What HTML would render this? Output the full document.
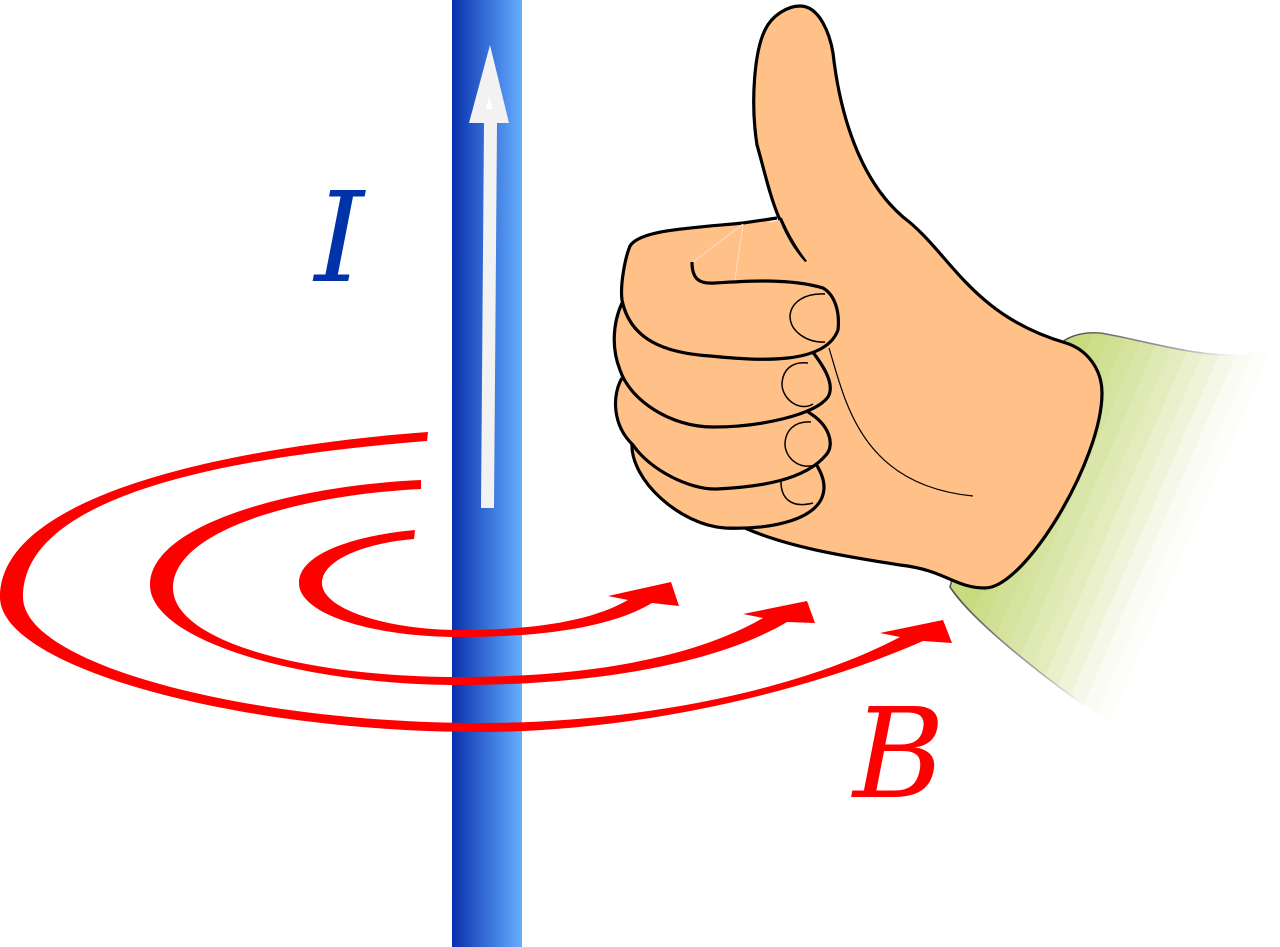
<!DOCTYPE html>
<html>
<head>
<meta charset="utf-8">
<title>Right-hand rule</title>
<style>
html,body{margin:0;padding:0;background:#fff;}
svg{display:block;}
text{font-family:"DejaVu Serif",serif;font-style:italic;font-size:125px;}
</style>
</head>
<body>
<svg xmlns="http://www.w3.org/2000/svg" width="1280" height="947" viewBox="0 0 1280 947">
<defs>
<linearGradient id="wire" x1="452" y1="0" x2="522" y2="0" gradientUnits="userSpaceOnUse">
<stop offset="0" stop-color="#0830ae"/>
<stop offset="1" stop-color="#66aeff"/>
</linearGradient>
<linearGradient id="sl" x1="965" y1="590" x2="1135" y2="664" gradientUnits="userSpaceOnUse">
<stop offset="0" stop-color="#c8da7e"/><stop offset=".083" stop-color="#c8da7e"/>
<stop offset=".083" stop-color="#cddd89"/><stop offset=".167" stop-color="#cddd89"/>
<stop offset=".167" stop-color="#d1e094"/><stop offset=".25" stop-color="#d1e094"/>
<stop offset=".25" stop-color="#d6e39e"/><stop offset=".333" stop-color="#d6e39e"/>
<stop offset=".333" stop-color="#dae6a9"/><stop offset=".417" stop-color="#dae6a9"/>
<stop offset=".417" stop-color="#dfe9b4"/><stop offset=".5" stop-color="#dfe9b4"/>
<stop offset=".5" stop-color="#e4ecbe"/><stop offset=".583" stop-color="#e4ecbe"/>
<stop offset=".583" stop-color="#e9f0cb"/><stop offset=".667" stop-color="#e9f0cb"/>
<stop offset=".667" stop-color="#eff4d9"/><stop offset=".75" stop-color="#eff4d9"/>
<stop offset=".75" stop-color="#f5f8e8"/><stop offset=".833" stop-color="#f5f8e8"/>
<stop offset=".833" stop-color="#fafcf3"/><stop offset=".917" stop-color="#fafcf3"/>
<stop offset=".917" stop-color="#fdfef9"/><stop offset="1" stop-color="#fdfef9"/>
<stop offset="1" stop-color="#ffffff"/>
</linearGradient>
<linearGradient id="sls" x1="965" y1="590" x2="1135" y2="664" gradientUnits="userSpaceOnUse">
<stop offset="0" stop-color="#555"/>
<stop offset="0.55" stop-color="#aaa"/>
<stop offset="0.85" stop-color="#fff"/>
<stop offset="1" stop-color="#fff"/>
</linearGradient>
</defs>

<rect x="452" y="0" width="70" height="947" fill="url(#wire)"/>

<path d="M490,45 L509,123 L497,123 L494,508 L481,508 L484,123 L469,123 Z" fill="#f2f2f2"/>
<path d="M489,97 L493,109 L486,109 Z" fill="#fff"/>

<text x="314.5" y="281" fill="#0033aa">I</text>
<text x="853" y="797" fill="#ff0000">B</text>

<!-- outer ring -->
<path fill="#ff0000" d="M428,432 C250,445 0,490 0,597 C0,668 240,732 480,732 C630,732 800,695 923,641 L952,643 L943,620 L880,633 L900,637 C800,690 640,723 480,723 C250,723 23,665 23,597 C23,490 250,455 427,441 Z"/>
<!-- middle ring -->
<path fill="#ff0000" d="M421,480 C290,486 150,525 150,585 C150,640 300,685 460,685 C600,685 720,662 787,622 L815,623 L807,601 L743,614 L763,618 C690,660 580,677 460,677 C300,677 173,640 173,588 C173,530 300,495 421,489 Z"/>
<!-- inner ring -->
<path fill="#ff0000" d="M415,530 C360,535 299,552 299,583 C299,615 375,637 460,637 C540,637 610,628 652,603 L679,606 L671,582 L608,596 L628,600 C590,622 530,630 460,630 C390,630 322,610 322,583 C322,560 365,543 414,539 Z"/>

<!-- sleeve -->
<path fill="url(#sl)" stroke="url(#sls)" stroke-width="1.6" d="M1065,340 C1075,334 1088,332 1100,333 C1130,337 1190,356 1235,355 C1252,354 1268,348 1275,342 L1113,725 C1060,690 975,625 950,587 L1000,400 Z"/>

<!-- palm and thumb fill -->
<path fill="#ffc188" d="M780,220 C770,198 763,165 757,145 C750,100 755,50 765,30 C772,15 788,6 800,6 C820,6 830,35 833,53 C840,115 860,180 903,217 C950,252 970,315 1066,343 C1088,350 1102,370 1102,393 C1102,460 1025,588 985,588 C955,588 945,570 900,565 C850,557 790,548 745,528 L690,400 L690,240 Z"/>
<!-- palm and thumb outline -->
<path fill="none" stroke="#000" stroke-width="3.2" stroke-linejoin="round" d="M780,220 C770,198 763,165 757,145 C750,100 755,50 765,30 C772,15 788,6 800,6 C820,6 830,35 833,53 C840,115 860,180 903,217 C950,252 970,315 1066,343 C1088,350 1102,370 1102,393 C1102,460 1025,588 985,588 C955,588 945,570 900,565 C850,557 790,548 745,528"/>

<!-- fourth finger -->
<path fill="#ffc188" stroke="#000" stroke-width="3.2" d="M632,443 C630,480 680,525 725,528 C770,530 824,520 824,487 C824,480 821,472 816,464"/>
<!-- third finger -->
<path fill="#ffc188" stroke="#000" stroke-width="3.2" d="M622,378 C612,395 612,425 633,445 C650,470 690,490 717,489 C760,487 805,480 826,455 C835,445 830,425 808,412"/>
<!-- second finger -->
<path fill="#ffc188" stroke="#000" stroke-width="3.2" d="M622,303 C612,325 612,350 620,370 C630,400 670,427 713,427 C760,427 815,415 828,397 C835,385 825,368 812,351"/>
<!-- first finger -->
<path fill="#ffc188" stroke="#000" stroke-width="3.2" d="M777,218 L743,223 C690,228 640,230 630,246 C625,258 620,285 622,300 C630,340 665,353 710,356 C760,361 825,365 838,330 C840,312 835,295 823,288 C790,278 745,281 715,283 C700,284 692,280 692,262"/>

<!-- thumb crease sliver -->
<path fill="#000" d="M778,216 L782,218 C788,232 797,248 807,261 L805,262 C794,250 785,235 778,216 Z"/>

<path fill="none" stroke="#ffe3cc" stroke-width="0.8" d="M743,224 L693,262 M743,224 L735,280"/>

<!-- nails and crease -->
<g fill="none" stroke="#000" stroke-width="1.5">
<path d="M825,294 C805,293 791,302 790,316 C790,332 808,343 825,342"/>
<path d="M808,363 C792,361 782,370 782,385 C783,400 800,412 813,404"/>
<path d="M811,422 C795,421 785,430 785,445 C786,460 802,471 817,464"/>
<path d="M781,482 C781,497 790,509 813,503"/>
<path stroke-width="1.2" d="M829,348 C845,400 860,485 973,496"/>
</g>
</svg>
</body>
</html>
